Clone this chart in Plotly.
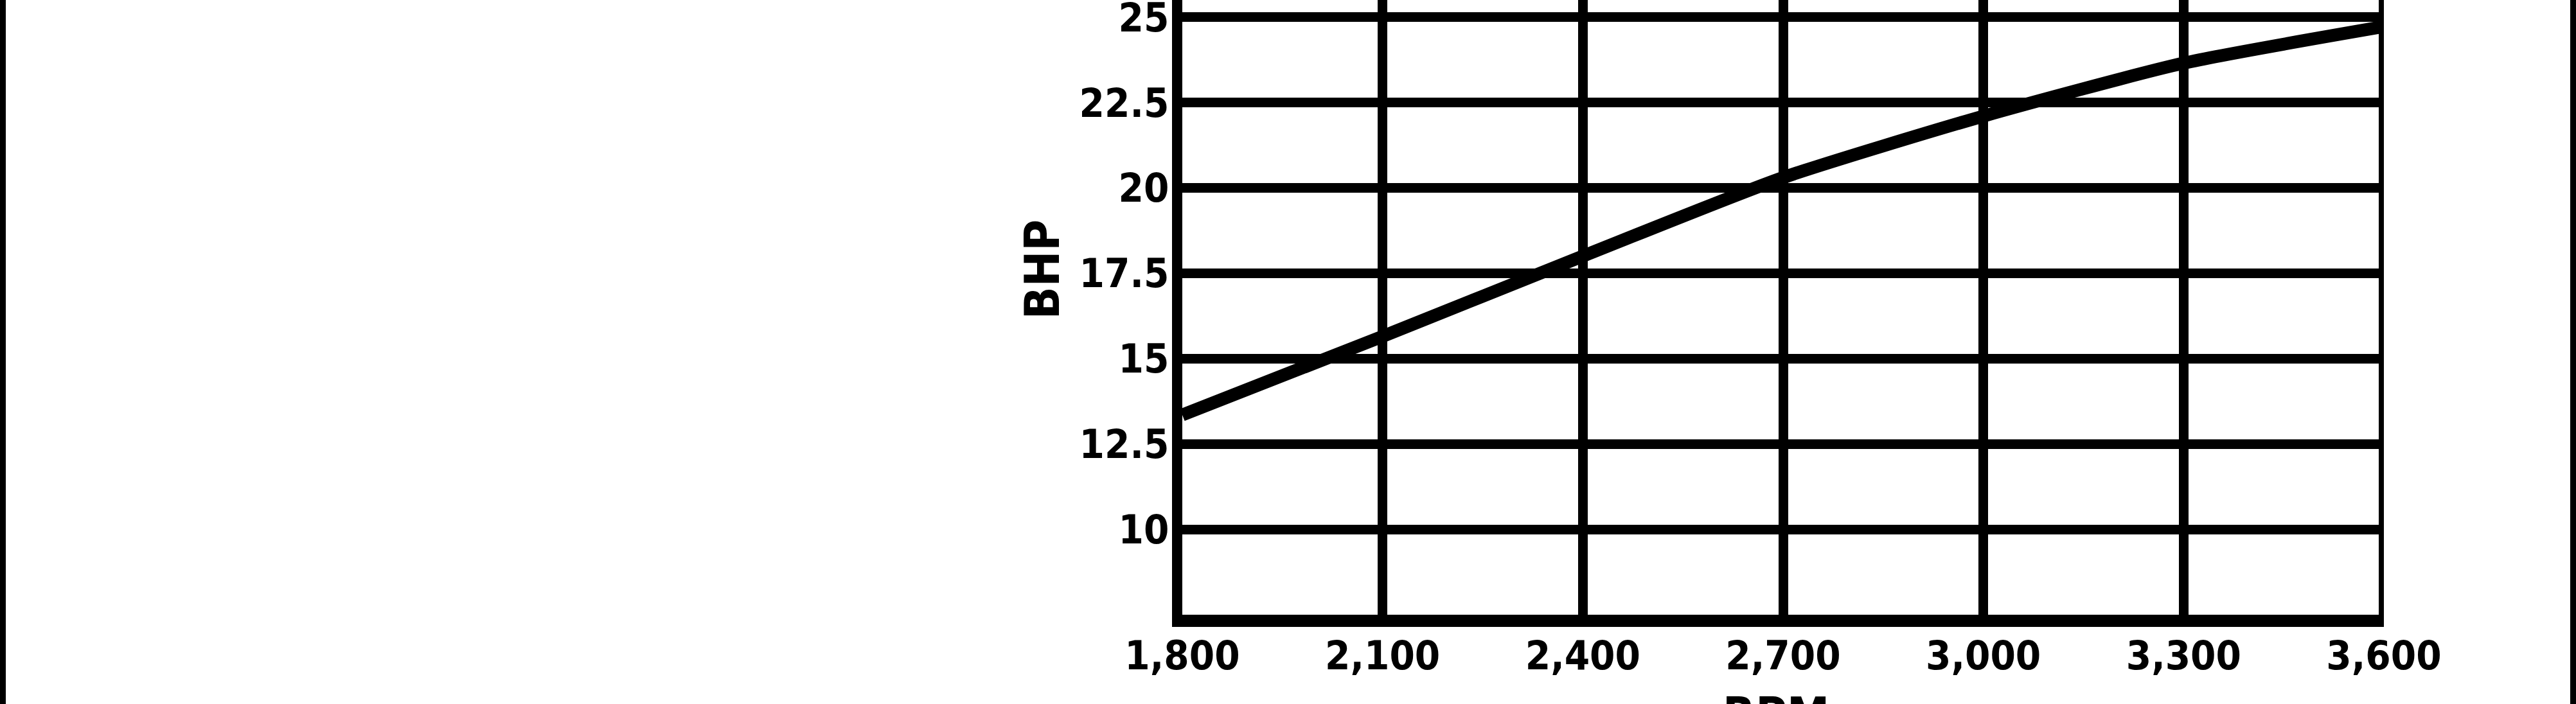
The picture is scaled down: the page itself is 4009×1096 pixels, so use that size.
import plotly.graph_objects as go

# Data
rpm = [1800, 2100, 2400, 2700, 3000, 3300, 3600]
bhp = [13.35, 15.65, 18.0, 20.3, 22.1, 23.65, 24.72]

x_ticks = [1800, 2100, 2400, 2700, 3000, 3300, 3600]
x_tick_labels = ["1,800", "2,100", "2,400", "2,700", "3,000", "3,300", "3,600"]
y_ticks = [10, 12.5, 15, 17.5, 20, 22.5, 25]
y_tick_labels = ["10", "12.5", "15", "17.5", "20", "22.5", "25"]

W, H = 4009, 1096
L, R, T, B = 1840, 299, 0, 139
FONT = "DejaVu Sans Condensed, Liberation Sans Narrow, sans-serif"

fig = go.Figure()
fig.add_trace(go.Scatter(
    x=rpm, y=bhp, mode="lines",
    line=dict(color="black", width=20, shape="spline", smoothing=0.6),
    hoverinfo="skip", showlegend=False,
))

pw = W - L - R
ph = H - T - B

def px_to_paper_x(p):
    return (p - L) / pw

def px_to_paper_y(p):
    return (H - B - p) / ph

fig.update_layout(
    width=W, height=H,
    margin=dict(l=L, r=R, t=T, b=B, pad=0, autoexpand=False),
    paper_bgcolor="white", plot_bgcolor="white",
    showlegend=False,
    xaxis=dict(
        range=[1800, 3600], tickvals=x_ticks, ticktext=x_tick_labels,
        showgrid=True, gridcolor="black", gridwidth=15,
        showline=True, linecolor="black", linewidth=19,
        zeroline=False, ticks="", ticklabelstandoff=-10,
        ticklabeloverflow="allow", automargin=False,
        tickfont=dict(family=FONT, size=63, color="black", weight="bold"),
    ),
    yaxis=dict(
        range=[7.5, 25.5], tickvals=y_ticks, ticktext=y_tick_labels,
        showgrid=True, gridcolor="black", gridwidth=15,
        showline=True, linecolor="black", linewidth=16,
        zeroline=False, ticks="", ticklabelstandoff=-8,
        ticklabeloverflow="allow", automargin=False,
        tickfont=dict(family=FONT, size=63, color="black", weight="bold"),
    ),
    shapes=[
        # right border of the grid
        dict(type="line", xref="x", yref="paper", x0=3600, x1=3600, y0=0, y1=1,
             line=dict(color="black", width=16), layer="above"),
        # scan edge bars
        dict(type="rect", xref="paper", yref="paper",
             x0=px_to_paper_x(0), x1=px_to_paper_x(9),
             y0=px_to_paper_y(H), y1=px_to_paper_y(0),
             fillcolor="black", line=dict(width=0)),
        dict(type="rect", xref="paper", yref="paper",
             x0=px_to_paper_x(4000), x1=px_to_paper_x(W),
             y0=px_to_paper_y(H), y1=px_to_paper_y(0),
             fillcolor="black", line=dict(width=0)),
    ],
    annotations=[
        dict(text="BHP", textangle=-90, xref="paper", yref="y",
             x=px_to_paper_x(1622), y=17.6, xanchor="center", yanchor="middle",
             showarrow=False,
             font=dict(family=FONT, size=74, color="black", weight="bold")),
        dict(text="RPM", xref="paper", yref="paper",
             x=px_to_paper_x(2764), y=px_to_paper_y(1068), xanchor="center", yanchor="top",
             showarrow=False,
             font=dict(family=FONT, size=74, color="black", weight="bold")),
    ],
)

fig.write_html(
    "out.html",
    config={"displayModeBar": False},
    post_script="document.body.style.margin='0px';document.body.style.overflow='hidden';",
)
